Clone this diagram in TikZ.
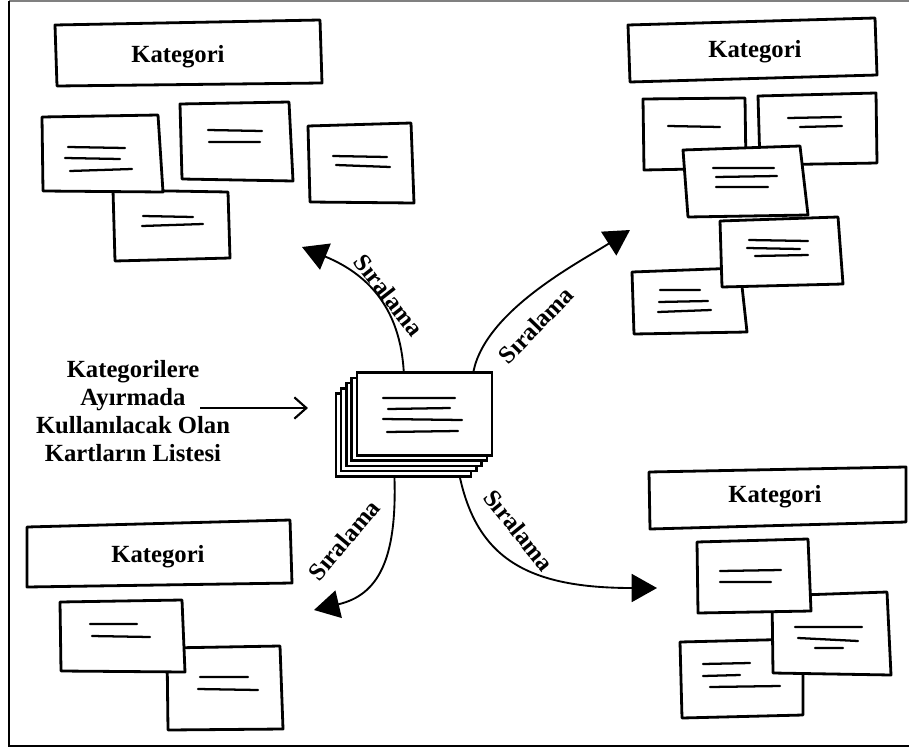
\documentclass[tikz,border=0pt]{standalone}
\usepackage{fontspec}
\setmainfont{Liberation Serif}
\usetikzlibrary{arrows.meta}

\tikzset{
  kart/.style={line width=2.1, fill=white, line join=round},
  destekart/.style={draw, line width=1.8, fill=white, inner sep=0pt, minimum width=101.5pt, minimum height=62pt},
  yazi/.style={line width=1.7, line cap=round},
  siraok/.style={line width=1.4, -{Triangle[length=19pt,width=21pt]}},
  girisok/.style={line width=1.6, -{Straight Barb[length=9pt,width=16pt]}},
  kattext/.style={inner sep=0.75pt, font=\fontsize{18.5}{21}\selectfont\bfseries},
  siratext/.style={inner sep=0.75pt, font=\fontsize{18.5}{21}\selectfont\bfseries}
}

\begin{document}
\begin{tikzpicture}[x=0.75pt,y=0.75pt,yscale=-1,xscale=1]
\useasboundingbox (0,0) rectangle (909,749);

%Shape: Frame
\draw [gray, line width=1.2] (9,1) -- (909,1) ;
\draw [line width=1.5] (9,1) -- (9,746) -- (909,746) ;

%Shape: Rectangle [top left category]
\draw [kart] (55,25) -- (320,20) -- (322,83) -- (57,86) -- cycle ;
% Text Node
\draw (178,57) node (kategori1) [kattext] {Kategori};
%Shape: Rectangle
\draw [kart] (113,190) -- (228,192) -- (230,258) -- (115,261) -- cycle ;
\draw [yazi] (143,216) -- (193,217) (142,226) -- (203,224) ;
%Shape: Rectangle
\draw [kart] (42,117) -- (158,115) -- (163,192) -- (43,191) -- cycle ;
\draw [yazi] (68,147) -- (125,148) (65,158) -- (120,159) (70,171) -- (132,169) ;
%Shape: Rectangle
\draw [kart] (180,104) -- (289,102) -- (293,181) -- (182,179) -- cycle ;
\draw [yazi] (208,130) -- (262,131) (209,142) -- (260,142) ;
%Shape: Rectangle
\draw [kart] (308,126) -- (411,123) -- (414,203) -- (310,202) -- cycle ;
\draw [yazi] (333,156) -- (387,157) (336,165) -- (390,167) ;

%Shape: Rectangle [top right category]
\draw [kart] (628,25) -- (875,18) -- (877,75) -- (630,82) -- cycle ;
% Text Node
\draw (755,52) node (kategori2) [kattext] {Kategori};
%Shape: Rectangle
\draw [kart] (643,99) -- (745,98) -- (746,168) -- (644,170) -- cycle ;
\draw [yazi] (668,126) -- (720,127) ;
%Shape: Rectangle
\draw [kart] (758,96) -- (876,93) -- (877,163) -- (760,165) -- cycle ;
\draw [yazi] (788,118) -- (841,117) (800,127) -- (842,126) ;
%Shape: Rectangle
\draw [kart] (683,150) -- (800,146) -- (808,215) -- (688,217) -- cycle ;
\draw [yazi] (713,168) -- (774,168) (716,177) -- (777,176) (716,187) -- (768,187) ;
%Shape: Rectangle
\draw [kart] (632,272) -- (740,268) -- (747,332) -- (634,334) -- cycle ;
\draw [yazi] (660,290) -- (700,290) (659,302) -- (708,301) (658,312) -- (711,310) ;
%Shape: Rectangle
\draw [kart] (720,221) -- (838,217) -- (843,284) -- (722,287) -- cycle ;
\draw [yazi] (749,240) -- (808,241) (747,248) -- (800,249) (755,256) -- (808,255) ;

%Shape: Rectangle [bottom left category]
\draw [kart] (27,527) -- (290,520) -- (292,583) -- (27,587) -- cycle ;
% Text Node
\draw (158,557) node (kategori3) [kattext] {Kategori};
%Shape: Rectangle
\draw [kart] (167,648) -- (280,646) -- (283,729) -- (168,730) -- cycle ;
\draw [yazi] (200,677) -- (248,677) (198,689) -- (258,690) ;
%Shape: Rectangle
\draw [kart] (60,602) -- (182,600) -- (185,672) -- (61,671) -- cycle ;
\draw [yazi] (90,624) -- (137,624) (92,636) -- (150,637) ;

%Shape: Rectangle [bottom right category]
\draw [kart] (649,472) -- (906,467) -- (906,522) -- (650,529) -- cycle ;
% Text Node
\draw (775,497) node (kategori4) [kattext] {Kategori};
%Shape: Rectangle
\draw [kart] (680,642) -- (803,639) -- (803,715) -- (682,718) -- cycle ;
\draw [yazi] (703,664) -- (750,663) (703,676) -- (740,675) (710,687) -- (780,686) ;
%Shape: Rectangle
\draw [kart] (772,596) -- (887,592) -- (891,675) -- (773,673) -- cycle ;
\draw [yazi] (795,627) -- (862,627) (798,638) -- (858,641) (815,648) -- (843,648) ;
%Shape: Rectangle
\draw [kart] (697,542) -- (808,539) -- (811,611) -- (698,613) -- cycle ;
\draw [yazi] (720,571) -- (781,570) (720,582) -- (771,582) ;

%Shape: Card stack
\node [destekart] (deste4) at (403.5,435) {};
\node [destekart] (deste3) at (408.75,429.75) {};
\node [destekart] (deste2) at (414,424.5) {};
\node [destekart] (deste1) at (419.25,419.25) {};
\node [destekart] (deste) at (424.5,414) {};
\draw [yazi] (383,398) -- (455,398) (388,409) -- (450,408) (383,419) -- (462,420) (387,432) -- (458,431) ;

% Text Node
\draw (133,411) node (liste) [align=center, inner sep=0.75pt, font=\fontsize{18.5}{20.8}\selectfont\bfseries] {Kategorilere\\Ayırmada\\Kullanılacak Olan\\Kartların Listesi};
\coordinate (girisBas) at (200,408);
%Straight Lines
\draw [girisok, shorten >=20pt] (girisBas) -- (deste4.west |- girisBas) ;

\coordinate (hedef1) at (302,247);
\coordinate (hedef2) at (630,230);
\coordinate (hedef3) at (314,610);
\coordinate (hedef4) at (657,588);
%Curve Lines
\draw [siraok] (deste.116) .. controls (400,310) and (370,275) .. (hedef1) ;
%Curve Lines
\draw [siraok] (deste.41) .. controls (486,310) and (580,262) .. (hedef2) ;
%Curve Lines
\draw [siraok] (deste4.258.6) .. controls (397,560) and (378,595) .. (hedef3) ;
%Curve Lines
\draw [siraok] (deste4.323.4) .. controls (478,560) and (530,588) .. (hedef4) ;

% Text Node
\draw (389,295) node (sira1) [siratext, rotate=-52] {Sıralama};
% Text Node
\draw (536,325) node (sira2) [siratext, rotate=46] {Sıralama};
% Text Node
\draw (344,540) node (sira3) [siratext, rotate=50] {Sıralama};
% Text Node
\draw (519,530) node (sira4) [siratext, rotate=-51] {Sıralama};

\end{tikzpicture}
\end{document}
